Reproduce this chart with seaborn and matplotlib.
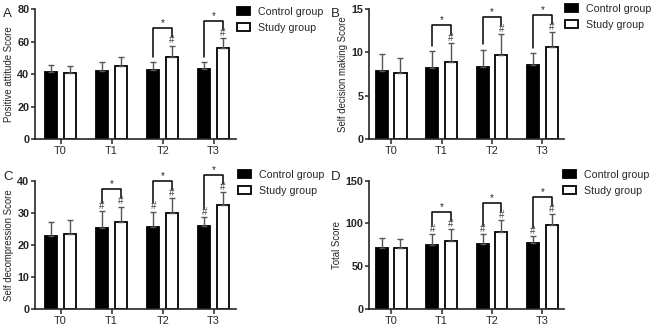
import numpy as np
import pandas as pd
import matplotlib
matplotlib.use("Agg")
import matplotlib.pyplot as plt
import seaborn as sns

times = ["T0", "T1", "T2", "T3"]
groups = ["Control group", "Study group"]

# panel A - positive attitude
a_ctrl = [41.0, 42.1, 42.7, 43.1]
a_ctrl_sd = [4.7, 5.1, 4.5, 4.5]
a_study = [40.6, 44.7, 50.3, 55.8]
a_study_sd = [4.5, 5.8, 7.1, 6.4]

# panel B - self decision making
b_ctrl = [7.82, 8.2, 8.33, 8.56]
b_ctrl_sd = [1.95, 1.95, 2.0, 1.4]
b_study = [7.63, 8.9, 9.65, 10.66]
b_study_sd = [1.75, 2.2, 2.45, 1.65]

# panel C - self decompression
c_ctrl = [22.8, 25.1, 25.4, 25.7]
c_ctrl_sd = [4.2, 5.4, 4.9, 2.8]
c_study = [23.2, 27.0, 30.0, 32.4]
c_study_sd = [4.4, 4.9, 4.5, 4.0]

# panel D - total
d_ctrl = [70.7, 74.6, 76.2, 77.0]
d_ctrl_sd = [11.7, 12.5, 10.9, 8.2]
d_study = [71.5, 79.7, 89.8, 98.4]
d_study_sd = [10.1, 13.3, 14.1, 12.6]

panels = [
    ("A", "Positive attitude Score", 80, 20, a_ctrl, a_ctrl_sd, a_study, a_study_sd,
     [False, False, False, False], [False, False, True, True], [2, 3]),
    ("B", "Self decision making Score", 15, 5, b_ctrl, b_ctrl_sd, b_study, b_study_sd,
     [False, False, False, False], [False, True, True, True], [1, 2, 3]),
    ("C", "Self decompression Score", 40, 10, c_ctrl, c_ctrl_sd, c_study, c_study_sd,
     [False, True, True, True], [False, True, True, True], [1, 2, 3]),
    ("D", "Total Score", 150, 50, d_ctrl, d_ctrl_sd, d_study, d_study_sd,
     [False, True, True, True], [False, True, True, True], [1, 2, 3]),
]

sns.set_style("ticks")
plt.rcParams["font.family"] = ["Liberation Sans", "DejaVu Sans"]

fig = plt.figure(figsize=(6.57, 3.3), dpi=100)
# left, bottom, width, height / xlim / legend anchor / letter position
layout = [
    ([0.0533, 0.579, 0.306, 0.393], (-0.5, 3.44), (1.005, 1.02), (0.005, 0.949)),
    ([0.5616, 0.579, 0.297, 0.393], (-0.44, 3.43), (1.003, 1.04), (0.504, 0.949)),
    ([0.0533, 0.0645, 0.306, 0.388], (-0.5, 3.44), (1.01, 1.085), (0.005, 0.455)),
    ([0.5616, 0.0645, 0.297, 0.388], (-0.44, 3.43), (0.995, 1.085), (0.504, 0.455)),
]

for (letter, ylab, ymax, ystep, ctrl, ctrl_sd, study, study_sd,
     hash_c, hash_s, brackets), (rect, xlim, leg_xy, let_xy) in zip(panels, layout):
    ax = fig.add_axes(rect)
    df = pd.DataFrame({
        "time": times * 2,
        "group": [groups[0]] * 4 + [groups[1]] * 4,
        "score": ctrl + study,
    })
    sns.barplot(data=df, x="time", y="score", hue="group", order=times,
                hue_order=groups, palette={groups[0]: "black", groups[1]: "white"},
                edgecolor="black", linewidth=1.3, width=0.74, gap=0.35,
                errorbar=None, ax=ax)

    sds = [ctrl_sd, study_sd]
    centers = []
    tops = []
    for cont, sd in zip(ax.containers, sds):
        xs = [b.get_x() + b.get_width() / 2 for b in cont]
        hs = [b.get_height() for b in cont]
        ax.errorbar(xs, hs, yerr=[np.zeros(4), sd], fmt="none", ecolor="#555555",
                    elinewidth=1.0, capsize=2.5, capthick=1.0, zorder=1)
        centers.append(xs)
        tops.append([h + s for h, s in zip(hs, sd)])

    for gi, flags in enumerate([hash_c, hash_s]):
        for i, f in enumerate(flags):
            if f:
                ax.text(centers[gi][i], tops[gi][i] + 0.003 * ymax, "#", ha="center",
                        va="bottom", fontsize=7, color="#444444")

    for i in brackets:
        top = max(tops[0][i], tops[1][i]) + 0.135 * ymax
        lb = tops[0][i] + (0.065 if hash_c[i] else 0.04) * ymax
        rb = tops[1][i] + (0.065 if hash_s[i] else 0.04) * ymax
        ax.plot([centers[0][i], centers[0][i], centers[1][i], centers[1][i]],
                [lb, top, top, rb], color="black", lw=1.1, clip_on=False)
        ax.text((centers[0][i] + centers[1][i]) / 2, top, "*", ha="center",
                va="bottom", fontsize=7)

    ax.set_ylim(0, ymax)
    ax.set_yticks(np.arange(0, ymax + 1, ystep))
    ax.set_xlim(*xlim)
    ax.set_xlabel("")
    ax.set_ylabel(ylab, fontsize=6.9, labelpad=2.5)
    ax.tick_params(axis="y", labelsize=7.8, width=1.1, length=3, pad=1)
    ax.tick_params(axis="x", labelsize=7.8, width=1.1, length=3.5, pad=1.5)
    for t in ax.get_yticklabels():
        t.set_fontweight("bold")
    sns.despine(ax=ax)
    for s in ["left", "bottom"]:
        ax.spines[s].set_linewidth(1.2)

    h, l = ax.get_legend_handles_labels()
    ax.legend(h, l, loc="upper left", bbox_to_anchor=leg_xy, frameon=False,
              fontsize=7.7, handlelength=1.2, handleheight=0.75, handletextpad=0.75,
              labelspacing=0.55, borderaxespad=0, borderpad=0)
    fig.text(let_xy[0], let_xy[1], letter, fontsize=9.5)

fig.savefig("out.png", dpi=100)
